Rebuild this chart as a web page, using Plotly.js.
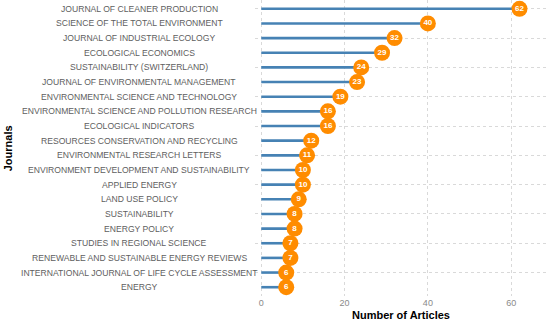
<!DOCTYPE html>
<html>
<head>
<meta charset="utf-8">
<script src="https://cdn.plot.ly/plotly-3.0.1.min.js"></script>
<style>html,body{margin:0;padding:0;background:#fff}#chart{width:550px;height:325px}</style>
</head>
<body>
<div id="chart"></div>
<script>
const journals = [
  "JOURNAL OF CLEANER PRODUCTION",
  "SCIENCE OF THE TOTAL ENVIRONMENT",
  "JOURNAL OF INDUSTRIAL ECOLOGY",
  "ECOLOGICAL ECONOMICS",
  "SUSTAINABILITY (SWITZERLAND)",
  "JOURNAL OF ENVIRONMENTAL MANAGEMENT",
  "ENVIRONMENTAL SCIENCE AND TECHNOLOGY",
  "ENVIRONMENTAL SCIENCE AND POLLUTION RESEARCH",
  "ECOLOGICAL INDICATORS",
  "RESOURCES CONSERVATION AND RECYCLING",
  "ENVIRONMENTAL RESEARCH LETTERS",
  "ENVIRONMENT DEVELOPMENT AND SUSTAINABILITY",
  "APPLIED ENERGY",
  "LAND USE POLICY",
  "SUSTAINABILITY",
  "ENERGY POLICY",
  "STUDIES IN REGIONAL SCIENCE",
  "RENEWABLE AND SUSTAINABLE ENERGY REVIEWS",
  "INTERNATIONAL JOURNAL OF LIFE CYCLE ASSESSMENT",
  "ENERGY"
];
const articles = [62, 40, 32, 29, 24, 23, 19, 16, 16, 12, 11, 10, 10, 9, 8, 8, 7, 7, 6, 6];
const xTicks = [0, 20, 40, 60];

const FONT = 'Liberation Sans, Arial, Helvetica, sans-serif';

const stemX = [], stemY = [];
journals.forEach((j, i) => {
  stemX.push(0, articles[i], null);
  stemY.push(j, j, null);
});

const stems = {
  type: 'scatter', mode: 'lines', x: stemX, y: stemY,
  line: {color: '#4682B4', width: 2.6},
  hoverinfo: 'skip', showlegend: false
};
const dots = {
  type: 'scatter', mode: 'markers+text', x: articles, y: journals,
  text: articles.map(String), textposition: 'middle center',
  textfont: {family: FONT, size: 8, color: '#ffffff', weight: 'bold'},
  marker: {color: '#FF8C00', size: 16, line: {width: 0}},
  showlegend: false
};

// centred category labels (ggplot-style), drawn as real text
const labelAnns = journals.map(j => ({
  text: j, xref: 'paper', yref: 'y', x: -0.397, y: j,
  xanchor: 'center', yanchor: 'middle', showarrow: false,
  font: {family: FONT, size: 8.6, color: '#5e5e5e'}
}));
labelAnns.push({
  text: '<b>Journals</b>', xref: 'paper', yref: 'paper', x: -0.845, y: 0.5,
  xanchor: 'center', yanchor: 'middle', showarrow: false, textangle: -90,
  font: {family: FONT, size: 11, color: '#000000'}
});

const layout = {
  width: 550, height: 325,
  margin: {l: 255, r: 3, t: 0, b: 29},
  paper_bgcolor: '#ffffff', plot_bgcolor: '#ffffff',
  font: {family: FONT, color: '#555555'},
  xaxis: {
    range: [-1.5, 68.6], tickvals: xTicks, ticktext: xTicks.map(String),
    showgrid: true, gridcolor: '#d9d9d9', griddash: 'dot', gridwidth: 1,
    zeroline: false, showline: false, ticks: '',
    tickfont: {size: 9, color: '#8a8a8a'},
    title: {text: 'Number of Articles', font: {size: 11, color: '#000000', weight: 'bold'}, standoff: 4},
    automargin: false
  },
  yaxis: {
    type: 'category', categoryorder: 'array', categoryarray: journals,
    range: [19.6, -0.6],
    showgrid: true, gridcolor: '#d9d9d9', griddash: 'dot', gridwidth: 1,
    zeroline: false, showline: false, ticks: '', showticklabels: false,
    automargin: false
  },
  annotations: labelAnns
};

Plotly.newPlot('chart', [stems, dots], layout, {displayModeBar: false, staticPlot: true});
</script>
</body>
</html>
